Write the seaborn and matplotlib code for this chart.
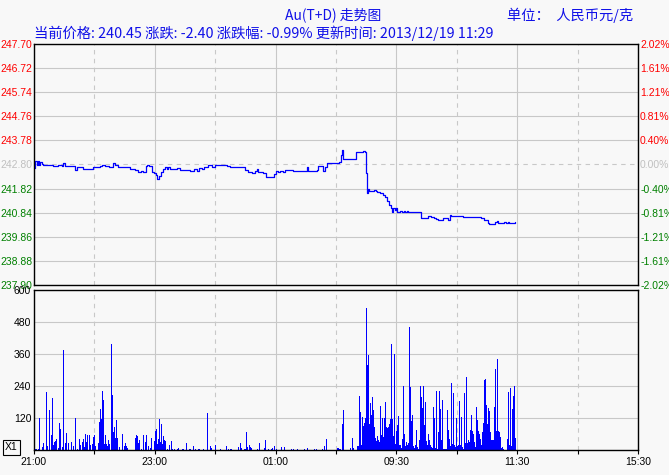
import matplotlib
matplotlib.use("Agg")
import matplotlib.pyplot as plt
from matplotlib.ticker import MultipleLocator
import seaborn as sns

# trading minutes counted from 21:00 (night session 21:00-02:30, then 09:00-11:30, 13:30-15:30)
price_minutes = [0, 1, 3, 4, 5, 6, 8, 9, 19, 24, 28, 29, 31, 41, 43, 46, 49, 59, 66, 68,
                 71, 74, 75, 78, 80, 83, 87, 95, 100, 103, 106, 108, 111, 112, 114, 117, 119, 121, 122, 124,
                 126, 128, 130, 132, 133, 135, 142, 145, 155, 159, 162, 164, 167, 169, 173, 177, 180, 192, 195, 210,
                 213, 217, 220, 222, 223, 228, 230, 238, 240, 242, 244, 247, 249, 252, 257, 271, 272, 281, 282, 287,
                 289, 291, 303, 305, 306, 307, 320, 327, 329, 330, 331, 332, 333, 338, 340, 341, 344, 347, 349, 351,
                 353, 355, 356, 357, 359, 360, 361, 364, 366, 368, 369, 371, 372, 374, 384, 391, 394, 397, 399, 401,
                 406, 411, 413, 414, 426, 429, 444, 447, 451, 452, 458, 460, 461, 467, 469, 471, 472, 478]
price_values = [242.66, 242.93, 242.79, 242.93, 242.79, 242.90, 242.82, 242.79, 242.74, 242.77,
                242.73, 242.86, 242.73, 242.59, 242.71, 242.68, 242.62, 242.68, 242.74, 242.79,
                242.73, 242.75, 242.68, 242.86, 242.77, 242.71, 242.68, 242.63, 242.59, 242.50,
                242.55, 242.50, 242.73, 242.79, 242.73, 242.50, 242.45, 242.36, 242.21, 242.32,
                242.50, 242.63, 242.68, 242.63, 242.68, 242.63, 242.66, 242.59, 242.52, 242.63,
                242.52, 242.66, 242.60, 242.68, 242.77, 242.71, 242.79, 242.73, 242.68, 242.59,
                242.50, 242.45, 242.52, 242.63, 242.50, 242.45, 242.28, 242.41, 242.55, 242.50,
                242.52, 242.50, 242.58, 242.59, 242.55, 242.70, 242.55, 242.59, 242.73, 242.55,
                242.68, 242.85, 242.92, 243.19, 243.39, 243.01, 243.30, 243.36, 243.32, 242.44,
                241.63, 241.79, 241.74, 241.76, 241.74, 241.70, 241.66, 241.56, 241.47, 241.33,
                241.15, 241.02, 240.86, 241.02, 240.95, 241.02, 240.88, 240.91, 240.88, 240.91,
                240.88, 240.91, 240.86, 240.87, 240.61, 240.72, 240.68, 240.61, 240.57, 240.53,
                240.61, 240.54, 240.76, 240.71, 240.65, 240.67, 240.61, 240.54, 240.41, 240.37,
                240.45, 240.50, 240.44, 240.47, 240.41, 240.46, 240.44, 240.45]

vol_minutes = [0, 2, 4, 5, 8, 9, 12, 13, 15, 17, 18, 19, 20, 21, 22, 24, 25, 26, 28, 29,
               31, 32, 34, 37, 39, 41, 43, 45, 46, 48, 49, 50, 51, 52, 53, 55, 56, 58, 59, 60,
               61, 64, 65, 66, 67, 68, 69, 70, 71, 72, 73, 74, 75, 77, 78, 79, 80, 81, 82, 83,
               85, 88, 90, 91, 92, 93, 101, 102, 103, 104, 105, 107, 109, 111, 112, 114, 116, 117, 120, 121,
               122, 123, 124, 125, 126, 127, 128, 129, 130, 131, 133, 135, 137, 138, 140, 143, 144, 148, 149, 152,
               154, 155, 158, 160, 163, 164, 168, 172, 175, 176, 180, 185, 191, 193, 195, 196, 203, 205, 206, 209,
               210, 211, 212, 214, 215, 216, 222, 224, 229, 230, 233, 236, 237, 239, 241, 246, 249, 256, 258, 262,
               269, 272, 279, 281, 287, 289, 291, 302, 303, 304, 306, 307, 314, 316, 317, 321, 322, 323, 324, 325,
               326, 327, 328, 329, 330, 331, 332, 333, 334, 335, 336, 337, 338, 339, 340, 341, 342, 343, 344, 345,
               346, 347, 348, 349, 350, 351, 352, 353, 354, 355, 356, 357, 358, 359, 360, 361, 362, 363, 364, 365,
               366, 367, 368, 369, 370, 371, 372, 373, 374, 375, 376, 377, 378, 379, 380, 381, 382, 383, 384, 385,
               386, 387, 388, 389, 390, 391, 392, 393, 394, 395, 396, 397, 398, 399, 400, 401, 402, 403, 404, 405,
               406, 407, 408, 409, 410, 411, 412, 413, 414, 415, 416, 417, 418, 419, 420, 421, 422, 423, 424, 425,
               426, 427, 428, 429, 430, 431, 432, 433, 434, 435, 436, 437, 438, 439, 440, 441, 442, 443, 444, 445,
               446, 447, 448, 449, 450, 451, 452, 453, 454, 455, 456, 457, 458, 459, 460, 461, 462, 463, 464, 465,
               466, 470, 471, 472, 473, 474, 475, 476, 477, 478]
vol_values = [5, 4, 4, 120, 10, 26, 217, 15, 150, 56, 195, 20, 30, 35, 41, 8, 101, 79, 10, 375,
              26, 64, 26, 30, 15, 120, 5, 41, 20, 30, 41, 10, 60, 30, 56, 56, 20, 22, 49, 56,
              15, 26, 105, 154, 116, 221, 187, 22, 56, 22, 15, 37, 22, 397, 206, 67, 86, 45, 112, 45,
              12, 60, 15, 26, 15, 8, 45, 56, 52, 26, 37, 5, 56, 30, 56, 15, 8, 45, 35, 71,
              79, 22, 41, 116, 30, 97, 22, 52, 39, 35, 5, 19, 34, 5, 5, 5, 8, 5, 5, 26,
              5, 5, 15, 5, 5, 5, 5, 139, 15, 8, 19, 5, 15, 5, 5, 5, 11, 26, 8, 5,
              5, 67, 12, 19, 12, 8, 5, 26, 8, 37, 5, 5, 8, 15, 5, 11, 11, 5, 5, 5,
              5, 8, 5, 5, 5, 15, 41, 8, 8, 5, 97, 150, 8, 45, 8, 15, 15, 202, 142, 19,
              124, 90, 101, 120, 532, 319, 356, 97, 176, 131, 199, 150, 86, 45, 34, 52, 37, 30, 165, 56,
              120, 49, 120, 180, 86, 82, 86, 97, 116, 397, 116, 52, 360, 22, 71, 94, 127, 19, 19, 8,
              41, 240, 60, 15, 30, 19, 26, 461, 236, 109, 131, 15, 8, 19, 75, 11, 5, 37, 240, 199,
              157, 240, 94, 180, 34, 19, 60, 37, 19, 11, 8, 161, 120, 8, 221, 5, 67, 221, 154, 37,
              187, 5, 5, 5, 5, 150, 75, 41, 15, 251, 22, 214, 19, 11, 120, 15, 19, 184, 19, 124,
              11, 5, 214, 26, 274, 26, 37, 30, 75, 131, 71, 60, 30, 11, 161, 112, 71, 60, 41, 19,
              67, 101, 262, 266, 169, 97, 157, 146, 67, 37, 37, 161, 304, 71, 341, 71, 67, 49, 8, 11,
              5, 41, 217, 19, 232, 15, 154, 202, 240, 45]

price_ticks = [237.90, 238.88, 239.86, 240.84, 241.82, 242.80, 243.78, 244.76, 245.74, 246.72, 247.70]
pct_labels = ["-2.02%", "-1.61%", "-1.21%", "-0.81%", "-0.40%", "0.00%",
              "0.40%", "0.81%", "1.21%", "1.61%", "2.02%"]
pre_close = 242.80
vol_ticks = [120, 240, 360, 480, 600]
time_ticks = [0, 120, 240, 360, 480, 600]
time_labels = ["21:00", "23:00", "01:00", "09:30", "11:30", "15:30"]

sns.set_theme(style="white")
plt.rcParams["font.family"] = ["Liberation Sans", "DejaVu Sans"]
cjk = ["Noto Sans CJK SC", "DejaVu Sans"]

bg = "#f8f8f8"
grid_c = "#c8c8c8"
dash = (0, (4, 4))

fig = plt.figure(figsize=(6.69, 4.75), dpi=100, facecolor=bg)
ax1 = fig.add_axes([0.0508, 0.4, 0.9028, 0.5074], facecolor=bg)
ax2 = fig.add_axes([0.0508, 0.0526, 0.9028, 0.3369], facecolor=bg)


def tick_color(v):
    if abs(v - pre_close) < 1e-6:
        return "#c0c0c0"
    return "#ff0000" if v > pre_close else "#008000"


for ax in (ax1, ax2):
    ax.set_xlim(0, 600)
    ax.set_axisbelow(True)
    ax.xaxis.set_major_locator(MultipleLocator(120))
    ax.xaxis.set_minor_locator(MultipleLocator(60))
    ax.grid(which="major", axis="x", color=grid_c, lw=0.8, ls="-")
    ax.grid(which="minor", axis="x", color=grid_c, lw=0.8, ls=dash)
    ax.grid(which="major", axis="y", color=grid_c, lw=0.8, ls="-")
    for s in ax.spines.values():
        s.set_color("black")
        s.set_linewidth(1.0)

# price panel
sns.lineplot(x=price_minutes, y=price_values, ax=ax1, color="#0000ff", lw=0.9,
             drawstyle="steps-post", estimator=None)
ax1.set_ylim(price_ticks[0], price_ticks[-1])
ax1.set_yticks(price_ticks)
ax1.set_yticklabels([f"{v:.2f}" for v in price_ticks])
ax1.tick_params(axis="x", which="both", length=0, labelbottom=False)
ax1.tick_params(axis="y", length=0, pad=1, labelsize=7.5)
for lbl, v in zip(ax1.get_yticklabels(), price_ticks):
    lbl.set_color(tick_color(v))
ax1.get_ygridlines()[price_ticks.index(pre_close)].set_linestyle(dash)

axr = ax1.twinx()
axr.set_ylim(price_ticks[0], price_ticks[-1])
axr.set_yticks(price_ticks)
axr.set_yticklabels(pct_labels)
axr.tick_params(axis="y", length=0, pad=1.5, labelsize=7.5)
for lbl, v in zip(axr.get_yticklabels(), price_ticks):
    lbl.set_color(tick_color(v))
for s in axr.spines.values():
    s.set_visible(False)

# volume panel
ax2.bar(vol_minutes, vol_values, width=1.0, color="#0000ff", linewidth=0, antialiased=False)
ax2.set_ylim(0, 600)
ax2.set_yticks(vol_ticks)
ax2.set_yticklabels([str(v) for v in vol_ticks])
ax2.set_xticks(time_ticks)
ax2.set_xticklabels(time_labels)
ax2.tick_params(axis="y", length=0, pad=2, labelsize=7.5, colors="black")
ax2.tick_params(axis="x", which="both", length=3, width=0.8, direction="out",
                pad=2, labelsize=7.5, colors="black", bottom=True)
ax2.set_xlabel("")
ax2.set_ylabel("")
ax1.set_xlabel("")
ax1.set_ylabel("")

# header texts
blue = "#1010e8"
fig.text(0.498, 0.968, "Au(T+D) 走势图", ha="center", va="center", color=blue,
         fontsize=10, family=cjk)
fig.text(0.758, 0.968, "单位：  人民币元/克", ha="left", va="center", color=blue,
         fontsize=10.3, family=cjk)
fig.text(0.0508, 0.930, "当前价格: 240.45 涨跌: -2.40 涨跌幅: -0.99% 更新时间: 2013/12/19 11:29",
         ha="left", va="center", color=blue, fontsize=10.3, family=cjk)
fig.text(0.0172, 0.0579, "X1", ha="center", va="center", fontsize=7.5, color="black",
         bbox=dict(boxstyle="square,pad=0.2", fc="none", ec="black", lw=0.8))

fig.savefig("out.png", dpi=100, facecolor=bg)
